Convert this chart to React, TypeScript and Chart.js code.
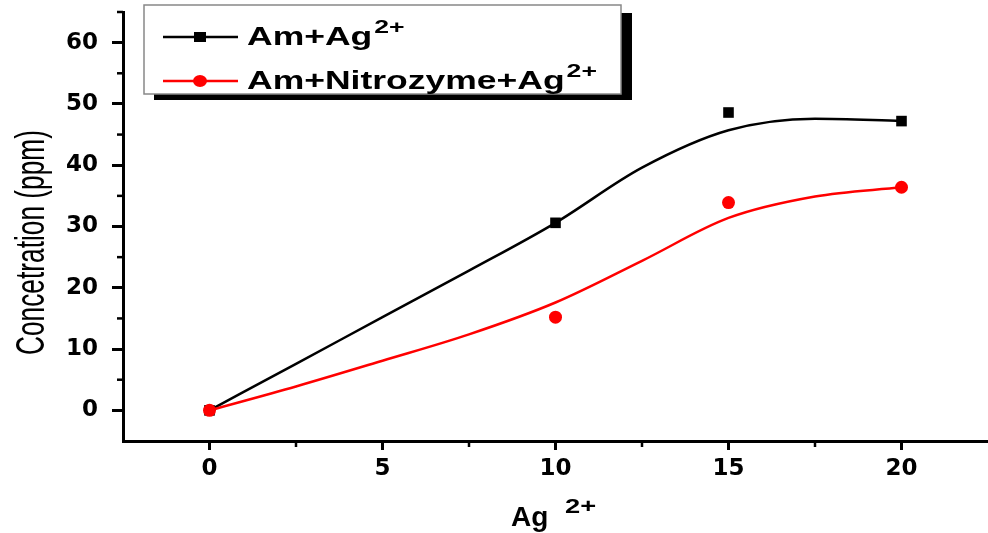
import React, { useEffect, useRef } from "react";
import { Chart, registerables } from "chart.js";

Chart.register(...registerables);

// ---- data ----
const markerX = [0, 10, 15, 20];
const amAg = [0, 30.6, 48.6, 47.2];
const amNitroAg = [0, 15.2, 33.9, 36.4];

// smooth fitted curves
const fitX = [0, 2.5, 5, 7.5, 10, 12.5, 15, 17.5, 20];
const amAgFit = [0, 7.6, 15.2, 22.8, 30.6, 39.6, 45.7, 47.6, 47.2];
const amNitroAgFit = [0, 3.9, 8.1, 12.4, 17.6, 24.4, 31.4, 34.9, 36.4];

const xTicks = [0, 5, 10, 15, 20];
const yTicks = [0, 10, 20, 30, 40, 50, 60];
const xMinor = [2.5, 7.5, 12.5, 17.5];
const yMinor = [5, 15, 25, 35, 45, 55, 65];

const seriesNames = ["Am+Ag", "Am+Nitrozyme+Ag"];
const seriesSup = "2+";
const seriesColors = ["#000000", "#ff0000"];
const xTitle = "Ag";
const xTitleSup = "2+";
const yTitle = "Concetration (ppm)";

const pts = (xs: number[], ys: number[]) => xs.map((x, i) => ({ x, y: ys[i] }));

const decorPlugin = {
  id: "decor",
  afterDraw(chart: any) {
    const ctx = chart.ctx as CanvasRenderingContext2D;
    const xs = chart.scales.x;
    const ys = chart.scales.y;
    const area = chart.chartArea;
    ctx.save();
    // minor ticks
    ctx.strokeStyle = "#000";
    ctx.lineWidth = 2.5;
    xMinor.forEach((v) => {
      const px = xs.getPixelForValue(v);
      ctx.beginPath();
      ctx.moveTo(px, area.bottom);
      ctx.lineTo(px, area.bottom + 6);
      ctx.stroke();
    });
    yMinor.forEach((v) => {
      const py = ys.getPixelForValue(v);
      ctx.beginPath();
      ctx.moveTo(area.left - 6, py);
      ctx.lineTo(area.left, py);
      ctx.stroke();
    });

    // y title (rotated, condensed)
    ctx.save();
    ctx.fillStyle = "#000";
    ctx.font = "28px 'Liberation Sans', Arial, sans-serif";
    const w = ctx.measureText(yTitle).width;
    ctx.translate(44, 242.5);
    ctx.rotate(-Math.PI / 2);
    ctx.scale(225 / w, 1.42);
    ctx.textAlign = "center";
    ctx.textBaseline = "alphabetic";
    ctx.fillText(yTitle, 0, 0);
    ctx.restore();

    // x title with superscript
    ctx.save();
    ctx.fillStyle = "#000";
    ctx.textBaseline = "alphabetic";
    ctx.textAlign = "left";
    ctx.font = "bold 28px 'Liberation Sans', Arial, sans-serif";
    ctx.fillText(xTitle, 511, 526);
    ctx.translate(565, 513);
    ctx.scale(1.3, 1);
    ctx.font = "bold 21px 'Liberation Sans', Arial, sans-serif";
    ctx.fillText(xTitleSup, 0, 0);
    ctx.restore();

    // legend
    ctx.save();
    ctx.fillStyle = "#000";
    ctx.fillRect(154, 13, 478, 87);
    ctx.fillStyle = "#fff";
    ctx.fillRect(144, 5, 477, 89);
    ctx.strokeStyle = "#888";
    ctx.lineWidth = 1.5;
    ctx.strokeRect(144, 5, 477, 89);
    const rows = [37, 81];
    const bases = [45, 89];
    seriesNames.forEach((name, i) => {
      const y = rows[i];
      ctx.strokeStyle = seriesColors[i];
      ctx.fillStyle = seriesColors[i];
      ctx.lineWidth = 2.5;
      ctx.beginPath();
      ctx.moveTo(163, y);
      ctx.lineTo(238, y);
      ctx.stroke();
      if (i === 0) {
        ctx.fillRect(194, y - 5, 12, 10);
      } else {
        ctx.beginPath();
        ctx.ellipse(200, y, 7, 6, 0, 0, Math.PI * 2);
        ctx.fill();
      }
      ctx.save();
      ctx.fillStyle = "#000";
      ctx.textAlign = "left";
      ctx.textBaseline = "alphabetic";
      ctx.font = "bold 25px 'Liberation Sans', Arial, sans-serif";
      const sx = 1.42;
      const tw = ctx.measureText(name).width * sx;
      ctx.translate(247, bases[i]);
      ctx.scale(sx, 1);
      ctx.fillText(name, 0, 0);
      ctx.restore();
      ctx.save();
      ctx.fillStyle = "#000";
      ctx.font = "bold 19px 'Liberation Sans', Arial, sans-serif";
      ctx.translate(247 + tw + 2, bases[i] - 12);
      ctx.scale(1.4, 1);
      ctx.fillText(seriesSup, 0, 0);
      ctx.restore();
    });
    ctx.restore();

    ctx.restore();
  },
};

export default function App() {
  const ref = useRef<HTMLCanvasElement | null>(null);
  useEffect(() => {
    if (!ref.current) return;
    const tickFont = { family: "'DejaVu Sans', sans-serif", weight: "bold" as const, size: 23 };
    const chart = new Chart(ref.current, {
      type: "line",
      data: {
        datasets: [
          {
            label: seriesNames[1] + " markers",
            data: pts(markerX, amNitroAg),
            showLine: false,
            pointStyle: "circle",
            pointRadius: 6.5,
            backgroundColor: "#ff0000",
            borderColor: "#ff0000",
            borderWidth: 0,
            order: 0,
          },
          {
            label: seriesNames[0] + " markers",
            data: pts(markerX, amAg),
            showLine: false,
            pointStyle: "rect",
            pointRadius: 7.5,
            backgroundColor: "#000000",
            borderColor: "#000000",
            borderWidth: 0,
            order: 1,
          },
          {
            label: seriesNames[1] + " fit",
            data: pts(fitX, amNitroAgFit),
            borderColor: "#ff0000",
            borderWidth: 2.5,
            pointRadius: 0,
            cubicInterpolationMode: "monotone",
            fill: false,
            order: 2,
          },
          {
            label: seriesNames[0] + " fit",
            data: pts(fitX, amAgFit),
            borderColor: "#000000",
            borderWidth: 2.5,
            pointRadius: 0,
            cubicInterpolationMode: "monotone",
            fill: false,
            order: 3,
          },
        ],
      },
      options: {
        animation: false,
        responsive: false,
        maintainAspectRatio: false,
        layout: { autoPadding: false, padding: { top: 12, left: 0, right: 0, bottom: 0 } },
        plugins: { legend: { display: false }, tooltip: { enabled: false } },
        scales: {
          x: {
            type: "linear",
            min: -2.5,
            max: 22.5,
            afterBuildTicks: (s: any) => {
              s.ticks = xTicks.map((v) => ({ value: v }));
            },
            afterFit: (s: any) => {
              s.height = 92;
              s.paddingLeft = 0;
              s.paddingRight = 0;
            },
            grid: {
              display: true,
              drawOnChartArea: false,
              drawTicks: true,
              tickLength: 9,
              tickWidth: 3,
              tickColor: "#000",
            },
            border: { display: true, color: "#000", width: 3 },
            ticks: { color: "#000", font: tickFont, padding: 5, maxRotation: 0 },
          },
          y: {
            type: "linear",
            min: -5,
            max: 65,
            afterBuildTicks: (s: any) => {
              s.ticks = yTicks.map((v) => ({ value: v }));
            },
            afterFit: (s: any) => {
              s.width = 123;
              s.paddingTop = 0;
              s.paddingBottom = 0;
            },
            grid: {
              display: true,
              drawOnChartArea: false,
              drawTicks: true,
              tickLength: 11,
              tickWidth: 3,
              tickColor: "#000",
            },
            border: { display: true, color: "#000", width: 3 },
            ticks: { color: "#000", font: tickFont, padding: 14 },
          },
        },
      },
      plugins: [decorPlugin],
    });
    return () => chart.destroy();
  }, []);
  return (
    <div style={{ position: "fixed", left: 0, top: 0, width: 988, height: 533, background: "#fff" }}>
      <canvas ref={ref} width={988} height={533} style={{ width: 988, height: 533, display: "block" }} />
    </div>
  );
}
